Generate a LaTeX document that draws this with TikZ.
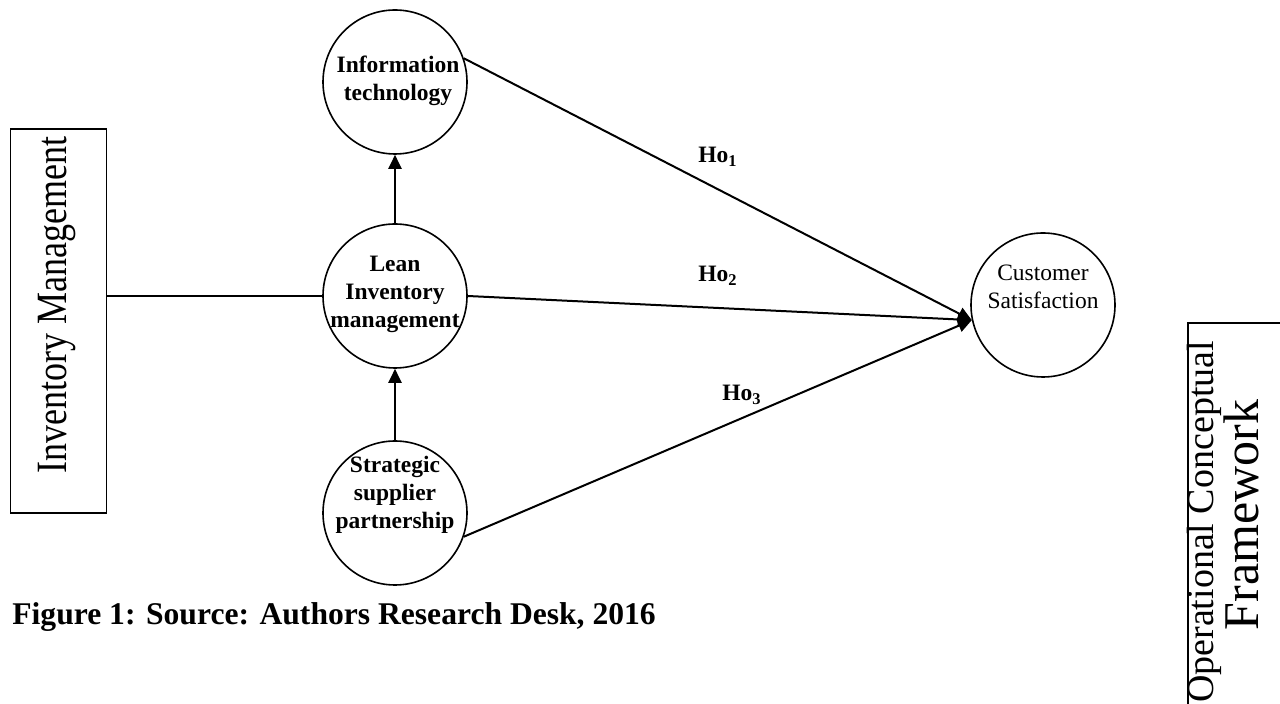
\documentclass[tikz,border=0pt]{standalone}
\usepackage{fontspec}
\setmainfont{Liberation Serif}
\usetikzlibrary{arrows.meta}
\begin{document}
\begin{tikzpicture}[x=0.5pt,y=-0.5pt,
  circ/.style={circle, draw, line width=0.8pt, minimum size=72pt, inner sep=0pt},
  btxt/.style={font=\bfseries\fontsize{11.75}{14}\selectfont, align=center, inner sep=0pt},
  rtxt/.style={font=\fontsize{11.75}{14}\selectfont, align=center, inner sep=0pt},
  conn/.style={line width=1pt},
  arr/.style={conn, -{Triangle[length=7pt,width=6.5pt]}},
  boxed/.style={draw, line width=0.8pt, inner sep=0pt},
]
\clip (0,0) rectangle (1280,704);
\fill[white] (0,0) rectangle (1280,704);

\node[circ] (it) at (395,82) {};
\node[circ] (lim) at (395,296) {};
\node[circ] (ssp) at (395,513) {};
\node[circ] (cs) at (1043,305) {};

\node[btxt] (itt) at (398,81) {Information\\technology};
\node[btxt] (limt) at (395,294) {Lean\\Inventory\\management};
\node[btxt] (sspt) at (395,495) {Strategic\\supplier\\partnership};
\node[rtxt] (cst) at (1043,287) {Customer\\Satisfaction};

\node[boxed, minimum width=48pt, minimum height=192pt] (im) at (58.5,321) {};
\node[rotate=90, yscale=1.2, font=\fontsize{18}{20}\selectfont, inner sep=0pt] (imt) at (57,305) {Inventory Management};

\node[boxed, minimum width=60pt, minimum height=200pt, anchor=north west] (ocf) at (1187,322) {};
\node[rotate=90, anchor=base, font=\fontsize{19}{20}\selectfont, inner sep=0pt] (ocft1) at (1213,522) {Operational Conceptual};
\node[rotate=90, anchor=base, font=\fontsize{25}{26}\selectfont, inner sep=0pt] (ocft2) at (1258,515) {Framework};

\draw[conn] (im.east |- lim.west) -- (lim.west);
\draw[arr] (lim.north) -- (it.south);
\draw[arr] (ssp.north) -- (lim.south);

\coordinate (tip) at (cs.192);
\draw[arr] (it.19) -- (tip);
\draw[arr] (lim.east) -- (tip);
\draw[arr] (ssp.-19) -- (tip);

\node[btxt] (h1) at (718,157) {Ho\textsubscript{1}};
\node[btxt] (h2) at (718,276) {Ho\textsubscript{2}};
\node[btxt] (h3) at (742,395) {Ho\textsubscript{3}};

\node[anchor=base west, font=\bfseries\fontsize{15.8}{18}\selectfont, inner sep=0pt] (cap) at (12,625) {Figure 1: Source: Authors Research Desk, 2016};
\end{tikzpicture}
\end{document}
